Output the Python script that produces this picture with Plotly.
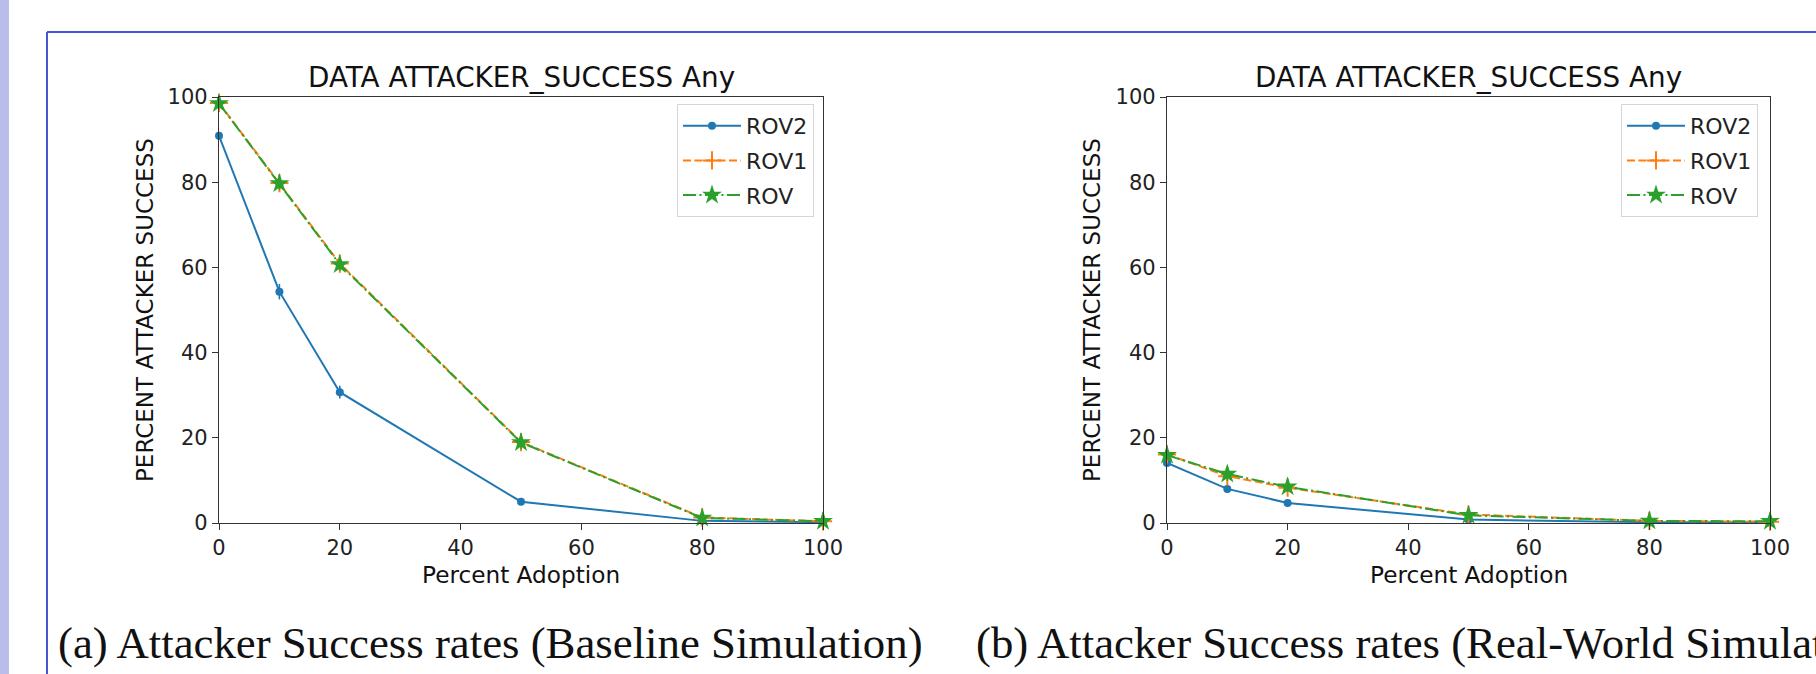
import plotly.graph_objects as go

W, H = 1816, 674

adoption = [0, 10, 20, 50, 80, 100]
series_names = ["ROV2", "ROV1", "ROV"]

# Baseline simulation (a)
base_rov2 = [90.9, 54.3, 30.7, 5.0, 0.5, 0.2]
base_rov1 = [98.6, 79.8, 60.9, 19.0, 1.3, 0.4]
base_rov = [98.5, 79.7, 60.7, 18.9, 1.2, 0.4]
base_rov2_err = [0.8, 1.8, 1.5, 0.6, 0.3, 0.1]
base_rov1_err = [0.8, 1.2, 1.4, 1.2, 0.5, 0.3]
base_rov_err = [0.8, 1.5, 1.5, 1.5, 1.0, 0.8]

# Real-world simulation (b)
real_rov2 = [14.1, 8.0, 4.7, 0.8, 0.2, 0.1]
real_rov1 = [16.1, 11.0, 8.3, 2.0, 0.5, 0.3]
real_rov = [15.9, 11.5, 8.5, 1.8, 0.5, 0.4]
real_rov2_err = [0.6, 0.8, 0.6, 0.3, 0.1, 0.1]
real_rov1_err = [0.8, 1.2, 1.0, 0.5, 0.2, 0.1]
real_rov_err = [1.0, 1.6, 1.2, 0.8, 0.6, 0.6]

x_ticks = [0, 20, 40, 60, 80, 100]
y_ticks = [0, 20, 40, 60, 80, 100]

chart_title = "DATA ATTACKER_SUCCESS Any"
x_label = "Percent Adoption"
y_label = "PERCENT ATTACKER SUCCESS"
caption_a = "(a) Attacker Success rates (Baseline Simulation)"
caption_b = "(b) Attacker Success rates (Real-World Simulation)"

BLUE, ORANGE, GREEN = "#1f77b4", "#ff7f0e", "#2ca02c"
FONT = "DejaVu Sans"

styles = {
    "ROV2": dict(color=BLUE, dash="solid", symbol="circle", size=8, mline=0),
    "ROV1": dict(color=ORANGE, dash="8px,3.5px", symbol="cross-thin", size=13, mline=2),
    "ROV": dict(color=GREEN, dash="13px,3.5px,2px,3.5px", symbol="star", size=15, mline=0),
}

fig = go.Figure()

panels = [
    ("x", "y", "legend", [base_rov2, base_rov1, base_rov], [base_rov2_err, base_rov1_err, base_rov_err]),
    ("x2", "y2", "legend2", [real_rov2, real_rov1, real_rov], [real_rov2_err, real_rov1_err, real_rov_err]),
]

for xa, ya, leg, vals, errs in panels:
    for name, v, e in zip(series_names, vals, errs):
        s = styles[name]
        fig.add_trace(go.Scatter(
            x=adoption, y=v, name=name, xaxis=xa, yaxis=ya, legend=leg,
            legendgroup=leg + name,
            mode="lines+markers",
            line=dict(color=s["color"], width=2, dash=s["dash"]),
            marker=dict(symbol=s["symbol"], size=s["size"], color=s["color"],
                        line=dict(width=s["mline"], color=s["color"])),
            error_y=dict(type="data", array=e, visible=True, color=s["color"],
                         thickness=1.6, width=0),
            cliponaxis=False,
        ))

def px_x(p):
    return p / W

def px_y(p):
    return 1 - p / H

xd1 = [px_x(219), px_x(823)]
xd2 = [px_x(1167), px_x(1770)]
yd = [px_y(523), px_y(97)]

axis_common = dict(
    range=[0, 100], showgrid=False, zeroline=False, showline=True, mirror=True,
    linecolor="#333", linewidth=1.3, ticks="outside", ticklen=6, tickwidth=1.3,
    tickcolor="#333", tickfont=dict(family=FONT, size=21, color="#222"),
    tickvals=x_ticks, fixedrange=True,
)

fig.update_layout(
    width=W, height=H,
    margin=dict(l=0, r=0, t=0, b=0, autoexpand=False),
    paper_bgcolor="white", plot_bgcolor="white",
    xaxis=dict(domain=xd1, anchor="y", **axis_common),
    yaxis=dict(domain=yd, anchor="x", **{**axis_common, "tickvals": y_ticks}),
    xaxis2=dict(domain=xd2, anchor="y2", **axis_common),
    yaxis2=dict(domain=yd, anchor="x2", **{**axis_common, "tickvals": y_ticks}),
    showlegend=True,
)

legend_common = dict(
    xanchor="right", yanchor="top", y=px_y(104),
    bgcolor="rgba(255,255,255,0.85)", bordercolor="#d6d6d6", borderwidth=1,
    font=dict(family=FONT, size=22, color="#222"),
    traceorder="grouped", tracegroupgap=3, itemwidth=58,
)
fig.update_layout(
    legend=dict(x=px_x(814), **legend_common),
    legend2=dict(x=px_x(1758), **legend_common),
)

annotations = []
for (x0, x1), ylx in [(xd1, px_x(145)), (xd2, px_x(1092))]:
    cx = (x0 + x1) / 2
    annotations.append(dict(text=chart_title, x=cx, y=px_y(77), xref="paper", yref="paper",
                            showarrow=False, xanchor="center", yanchor="middle",
                            font=dict(family=FONT, size=27.8, color="#111")))
    annotations.append(dict(text=x_label, x=cx, y=px_y(574), xref="paper", yref="paper",
                            showarrow=False, xanchor="center", yanchor="middle",
                            font=dict(family=FONT, size=23.2, color="#111")))
    annotations.append(dict(text=y_label, x=ylx, y=(yd[0] + yd[1]) / 2, xref="paper", yref="paper",
                            showarrow=False, xanchor="center", yanchor="middle", textangle=-90,
                            font=dict(family=FONT, size=23, color="#111")))

annotations.append(dict(text=caption_a, x=px_x(56), y=px_y(643), xref="paper", yref="paper",
                        showarrow=False, xanchor="left", yanchor="middle",
                        font=dict(family="Liberation Serif", size=44.8, color="#111")))
annotations.append(dict(text=caption_b, x=px_x(974), y=px_y(643), xref="paper", yref="paper",
                        showarrow=False, xanchor="left", yanchor="middle",
                        font=dict(family="Liberation Serif", size=44.8, color="#111")))
fig.update_layout(annotations=annotations)

shapes = [
    dict(type="rect", xref="paper", yref="paper", x0=0, x1=px_x(9), y0=0, y1=1,
         fillcolor="#b9bdec", line=dict(width=0), layer="below"),
    dict(type="line", xref="paper", yref="paper", x0=px_x(47), x1=1, y0=px_y(32), y1=px_y(32),
         line=dict(color="#4356d6", width=2)),
    dict(type="line", xref="paper", yref="paper", x0=px_x(47), x1=px_x(47), y0=0, y1=px_y(32),
         line=dict(color="#4356d6", width=2)),
]
fig.update_layout(shapes=shapes)

page_fix = (
    "document.body.style.margin='0';"
    "document.body.style.overflow='hidden';"
    "document.documentElement.style.overflow='hidden';"
)
fig.write_html("out.html", post_script=page_fix, config={"displayModeBar": False})
